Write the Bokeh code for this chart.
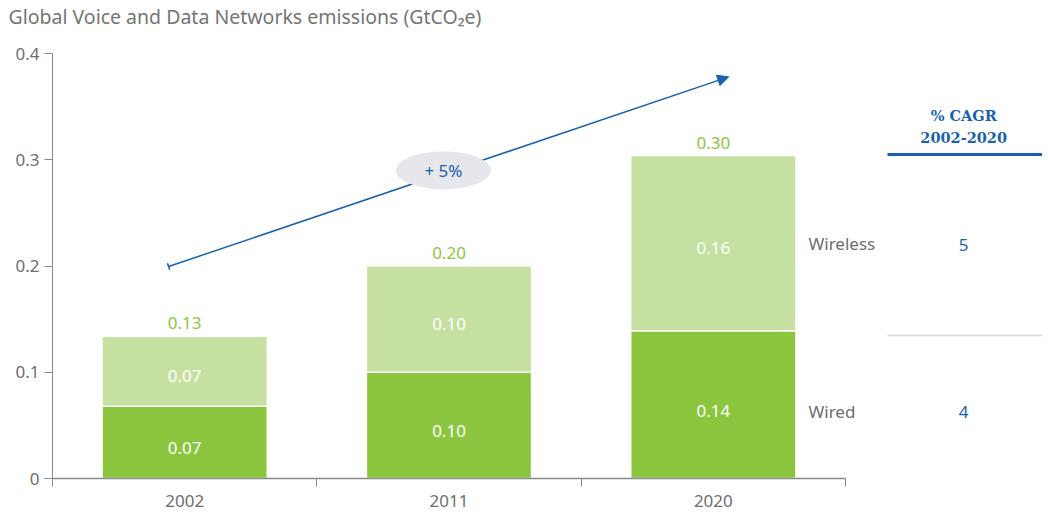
from bokeh.plotting import figure
from bokeh.models import (Range1d, FixedTicker, CustomJSTickFormatter, Arrow, NormalHead,
                          TeeHead, ColumnDataSource)
from bokeh.core.properties import value
from bokeh.embed import file_html
from bokeh.resources import INLINE

# ---- data ----
years = ["2002", "2011", "2020"]
wired = [0.068, 0.100, 0.139]
wireless = [0.066, 0.100, 0.165]
wired_labels = ["0.07", "0.10", "0.14"]
wireless_labels = ["0.07", "0.10", "0.16"]
total_labels = ["0.13", "0.20", "0.30"]
series_names = ["Wireless", "Wired"]
cagr_values = ["5", "4"]
cagr_header = ["% CAGR", "2002-2020"]
trend_label = "+ 5%"
title_text = "Global Voice and Data Networks emissions (GtCO₂e)"
y_ticks = [0, 0.1, 0.2, 0.3, 0.4]

# ---- styles ----
DARK = "#8cc63f"
LIGHT = "#c5e0a0"
BLUE = "#1a62ad"
GREY = "#6e6e6e"
AXIS = "#8a8a8a"
FONT = "Noto Sans"

n = len(years)
xc = [i + 0.5 for i in range(n)]
totals = [a + b for a, b in zip(wired, wireless)]
PX = 793 / 3      # pixels per category
PY = 1062.5       # pixels per unit of y
Y_MAX = y_ticks[-1]
TOP_PAD = 22      # frame pixels above the top tick

p = figure(output_backend="svg", toolbar_location=None,
           frame_width=990, frame_height=425 + TOP_PAD,
           min_border_left=52, min_border_right=0, min_border_top=53 - TOP_PAD,
           min_border_bottom=36,
           x_range=Range1d(0, 990 / PX), y_range=Range1d(0, Y_MAX + TOP_PAD / PY))
p.outline_line_color = None
p.grid.visible = False
p.background_fill_color = "white"

p.title.text = title_text
p.title.text_font = FONT
p.title.text_font_size = "19.5px"
p.title.text_font_style = "normal"
p.title.text_color = "#757575"
p.title.align = "left"
p.title.vertical_align = "top"
p.title.offset = -44
p.title.standoff = 0

src = ColumnDataSource(dict(x=xc, wired=wired, wireless=wireless, total=totals,
                            wl=wired_labels, sl=wireless_labels, tl=total_labels,
                            wm=[w / 2 for w in wired],
                            sm=[w + s / 2 for w, s in zip(wired, wireless)]))

p.vbar(x="x", bottom=0, top="wired", width=0.625, source=src,
       fill_color=DARK, line_color="white", line_width=1.5)
p.vbar(x="x", bottom="wired", top="total", width=0.625, source=src,
       fill_color=LIGHT, line_color="white", line_width=1.5)

p.text(x="x", y="wm", text="wl", source=src, text_color="white", text_font=value(FONT),
       text_font_size="17px", text_align="center", text_baseline="middle", y_offset=6)
p.text(x="x", y="sm", text="sl", source=src, text_color="white", text_font=value(FONT),
       text_font_size="17px", text_align="center", text_baseline="middle", y_offset=5)
p.text(x="x", y="total", text="tl", source=src, text_color=DARK, text_font=value(FONT),
       text_font_size="17px", text_align="center", text_baseline="bottom", y_offset=-7)

# series labels to the right of the last bar
last = n - 1
row_y = [wired[last] + wireless[last] / 2, wired[last] / 2]
p.text(x=[2.86, 2.86], y=row_y, text=series_names, text_color=GREY, text_font=value(FONT),
       text_font_size="17px", text_align="left", text_baseline="middle", y_offset=[0, 7])

# CAGR table
tx = 3.447
p.text(x=[tx, tx], y=row_y, text=cagr_values, text_color=BLUE, text_font=value(FONT),
       text_font_size="17px", text_align="center", text_baseline="middle", y_offset=[2, 7])
p.text(x=[tx, tx], y=[0.3417, 0.3205], text=cagr_header, text_color=BLUE,
       text_font=value("DejaVu Serif"), text_font_style="bold",
       text_font_size="14.5px", text_align="center", text_baseline="middle")
p.segment(x0=[3.159], y0=[0.305], x1=[3.75], y1=[0.305], line_color=BLUE, line_width=3)
p.segment(x0=[3.159], y0=[0.1346], x1=[3.75], y1=[0.1346], line_color="#d9d9d9", line_width=1.5)

# trend arrow
arrow = Arrow(x_start=0.439, y_start=0.1995, x_end=2.558, y_end=0.378,
              line_color=BLUE, line_width=1.5,
              end=NormalHead(size=11, fill_color=BLUE, line_color=BLUE),
              start=TeeHead(size=7, line_color=BLUE, line_width=1.5))
p.add_layout(arrow)
e = p.ellipse(x=[1.479], y=[0.29], width=[95], height=[38], width_units="screen",
              height_units="screen", fill_color="#e6e7eb", line_color=None)
e.level = "overlay"
t = p.text(x=[1.479], y=[0.29], text=[trend_label], text_color=BLUE, text_font=value(FONT),
           text_font_size="17px", text_align="center", text_baseline="middle")
t.level = "overlay"

# axes
p.yaxis.ticker = FixedTicker(ticks=y_ticks)
p.yaxis.bounds = (0, Y_MAX)
p.yaxis.formatter = CustomJSTickFormatter(code="return tick == 0 ? '0' : tick.toFixed(1);")
p.yaxis.axis_line_color = AXIS
p.yaxis.major_tick_line_color = AXIS
p.yaxis.major_tick_out = 8
p.yaxis.major_tick_in = 0
p.yaxis.minor_tick_line_color = None
p.yaxis.major_label_text_font = FONT
p.yaxis.major_label_text_font_size = "17px"
p.yaxis.major_label_text_color = GREY
p.yaxis.major_label_standoff = 5

p.xaxis.ticker = FixedTicker(ticks=xc, minor_ticks=list(range(n + 1)))
p.xaxis.formatter = CustomJSTickFormatter(args=dict(years=years),
                                          code="return years[Math.floor(tick)];")
p.xaxis.bounds = (0, n)
p.xaxis.axis_line_color = AXIS
p.xaxis.axis_line_width = 1.5
p.xaxis.major_tick_line_color = None
p.xaxis.minor_tick_line_color = AXIS
p.xaxis.minor_tick_out = 8
p.xaxis.minor_tick_in = 0
p.xaxis.major_label_text_font = FONT
p.xaxis.major_label_text_font_size = "17px"
p.xaxis.major_label_text_color = GREY
p.xaxis.major_label_standoff = 8

open("out.html", "w").write(file_html(p, INLINE))
